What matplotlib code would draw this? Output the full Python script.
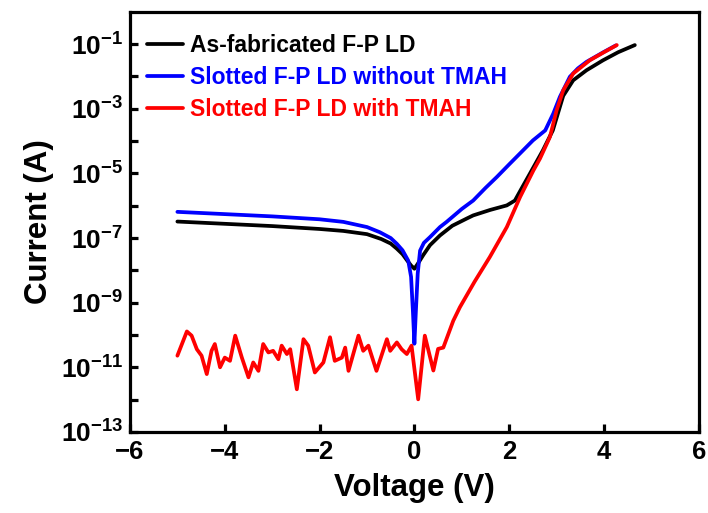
import numpy as np
import matplotlib
matplotlib.use("Agg")
import matplotlib.pyplot as plt
from matplotlib.ticker import FixedLocator, FuncFormatter, NullFormatter

plt.rcParams['font.family'] = ['Liberation Sans', 'DejaVu Sans']
plt.rcParams['font.weight'] = 'bold'
plt.rcParams['mathtext.fontset'] = 'custom'
plt.rcParams['mathtext.rm'] = 'Liberation Sans:bold'
plt.rcParams['mathtext.bf'] = 'Liberation Sans:bold'
plt.rcParams['mathtext.it'] = 'Liberation Sans:bold'

# ---- data: voltage (V) and log10 of current (A) ----
black_v = [-5.0, -4.0, -3.0, -2.0, -1.5, -1.0, -0.7, -0.5, -0.37, -0.25, -0.15, -0.07, 0.0,
           0.07, 0.19, 0.33, 0.54, 0.8, 1.1, 1.24, 1.6, 1.95, 2.12, 2.26, 2.44, 2.71, 2.92,
           3.14, 3.35, 3.63, 3.98, 4.3, 4.65]
black_logi = [-6.49, -6.56, -6.63, -6.72, -6.78, -6.88, -7.03, -7.17, -7.33, -7.5, -7.7, -7.85, -7.95,
              -7.8, -7.52, -7.22, -6.92, -6.62, -6.40, -6.30, -6.13, -5.99, -5.84, -5.47, -5.0, -4.29, -3.67,
              -2.6, -2.12, -1.81, -1.50, -1.25, -1.03]

blue_v = [-5.0, -4.0, -3.0, -2.0, -1.5, -1.0, -0.73, -0.5, -0.37, -0.25, -0.13, -0.07, -0.03, 0.0,
          0.03, 0.07, 0.12, 0.2, 0.33, 0.54, 0.68, 1.0, 1.24, 1.5, 1.74, 2.0, 2.23, 2.5, 2.76,
          2.93, 3.07, 3.28, 3.45, 3.63, 4.0, 4.25]
blue_logi = [-6.19, -6.26, -6.33, -6.42, -6.5, -6.66, -6.82, -7.0, -7.18, -7.38, -7.7, -8.2, -9.3, -10.27,
             -9.3, -8.1, -7.39, -7.15, -6.97, -6.66, -6.5, -6.1, -5.84, -5.45, -5.11, -4.72, -4.38, -3.98, -3.67,
             -3.15, -2.63, -2.01, -1.75, -1.55, -1.24, -1.04]

red_v = [-5.00, -4.80, -4.70, -4.59, -4.49, -4.38, -4.28, -4.21, -4.10, -4.00, -3.89, -3.78,
         -3.64, -3.50, -3.40, -3.29, -3.19, -3.08, -2.98, -2.87, -2.80, -2.69, -2.62, -2.48,
         -2.34, -2.24, -2.10, -1.92, -1.78, -1.68, -1.53, -1.46, -1.39, -1.18, -1.08, -0.97,
         -0.80, -0.58, -0.51, -0.37, -0.27, -0.16, -0.06, 0.08, 0.22, 0.40, 0.50, 0.61, 0.82,
         0.96, 1.27, 1.59, 1.95, 2.23, 2.51, 2.65, 2.86, 3.0, 3.14, 3.35, 3.70, 4.0, 4.27]
red_logi = [-10.64, -9.89, -10.02, -10.44, -10.64, -11.21, -10.49, -10.28, -11.00, -10.70, -10.80, -10.02,
            -10.70, -11.31, -10.85, -11.11, -10.28, -10.54, -10.49, -10.75, -10.33, -10.59, -10.44, -11.68,
            -10.13, -10.33, -11.16, -10.85, -10.07, -10.80, -10.70, -10.39, -11.11, -10.02, -10.49, -10.33,
            -11.11, -10.13, -10.49, -10.23, -10.44, -10.59, -10.33, -11.99, -10.02, -11.10, -10.43, -10.39, -9.56,
            -9.14, -8.35, -7.59, -6.66, -5.73, -4.91, -4.54, -3.87, -3.05, -2.43, -1.91, -1.50, -1.25, -1.03]

labels = ["As-fabricated F-P LD", "Slotted F-P LD without TMAH", "Slotted F-P LD with TMAH"]
colors = ["#000000", "#0000ff", "#ff0000"]
xticks = [-6, -4, -2, 0, 2, 4, 6]
major_exp = [-13, -11, -9, -7, -5, -3, -1]
minor_exp = [-12, -10, -8, -6, -4, -2]

fig = plt.figure(figsize=(7.08, 5.13), dpi=100)
ax = fig.add_axes([0.1836, 0.158, 0.8034, 0.819])

lw = 2.7
kw = dict(lw=lw, solid_capstyle='round', solid_joinstyle='round')
ax.plot(black_v, 10.0 ** np.array(black_logi), color=colors[0], label=labels[0], **kw)
ax.plot(blue_v, 10.0 ** np.array(blue_logi), color=colors[1], label=labels[1], **kw)
ax.plot(red_v, 10.0 ** np.array(red_logi), color=colors[2], label=labels[2], **kw)

ax.set_yscale('log')
ax.set_xlim(-6, 6)
ax.set_ylim(1e-13, 1e0)
ax.set_xticks(xticks)
ax.set_xticklabels(["\u2212%d" % abs(t) if t < 0 else "%d" % t for t in xticks])
ax.yaxis.set_major_locator(FixedLocator([10.0 ** e for e in major_exp]))
ax.yaxis.set_minor_locator(FixedLocator([10.0 ** e for e in minor_exp]))
ax.yaxis.set_major_formatter(FuncFormatter(lambda v, p: r'$\mathbf{10^{%d}}$' % int(round(np.log10(v)))))
ax.yaxis.set_minor_formatter(NullFormatter())

for s in ax.spines.values():
    s.set_linewidth(2.3)
ax.tick_params(axis='both', which='both', direction='in', width=2.3, length=6)
ax.tick_params(axis='x', which='major', labelsize=18.5, pad=6)
ax.tick_params(axis='y', which='major', labelsize=19, pad=5)

ax.set_xlabel("Voltage (V)", fontsize=22.5, fontweight='bold', labelpad=6)
ax.set_ylabel("Current (A)", fontsize=22.5, fontweight='bold', labelpad=5)

leg = ax.legend(loc='upper left', frameon=False, fontsize=16.5, handlelength=1.55,
                handletextpad=0.3, borderaxespad=0.2, labelspacing=0.4,
                bbox_to_anchor=(0.006, 0.98))
for t, c in zip(leg.get_texts(), colors):
    t.set_color(c)
    t.set_fontweight('bold')

fig.savefig("out.png", dpi=100)
